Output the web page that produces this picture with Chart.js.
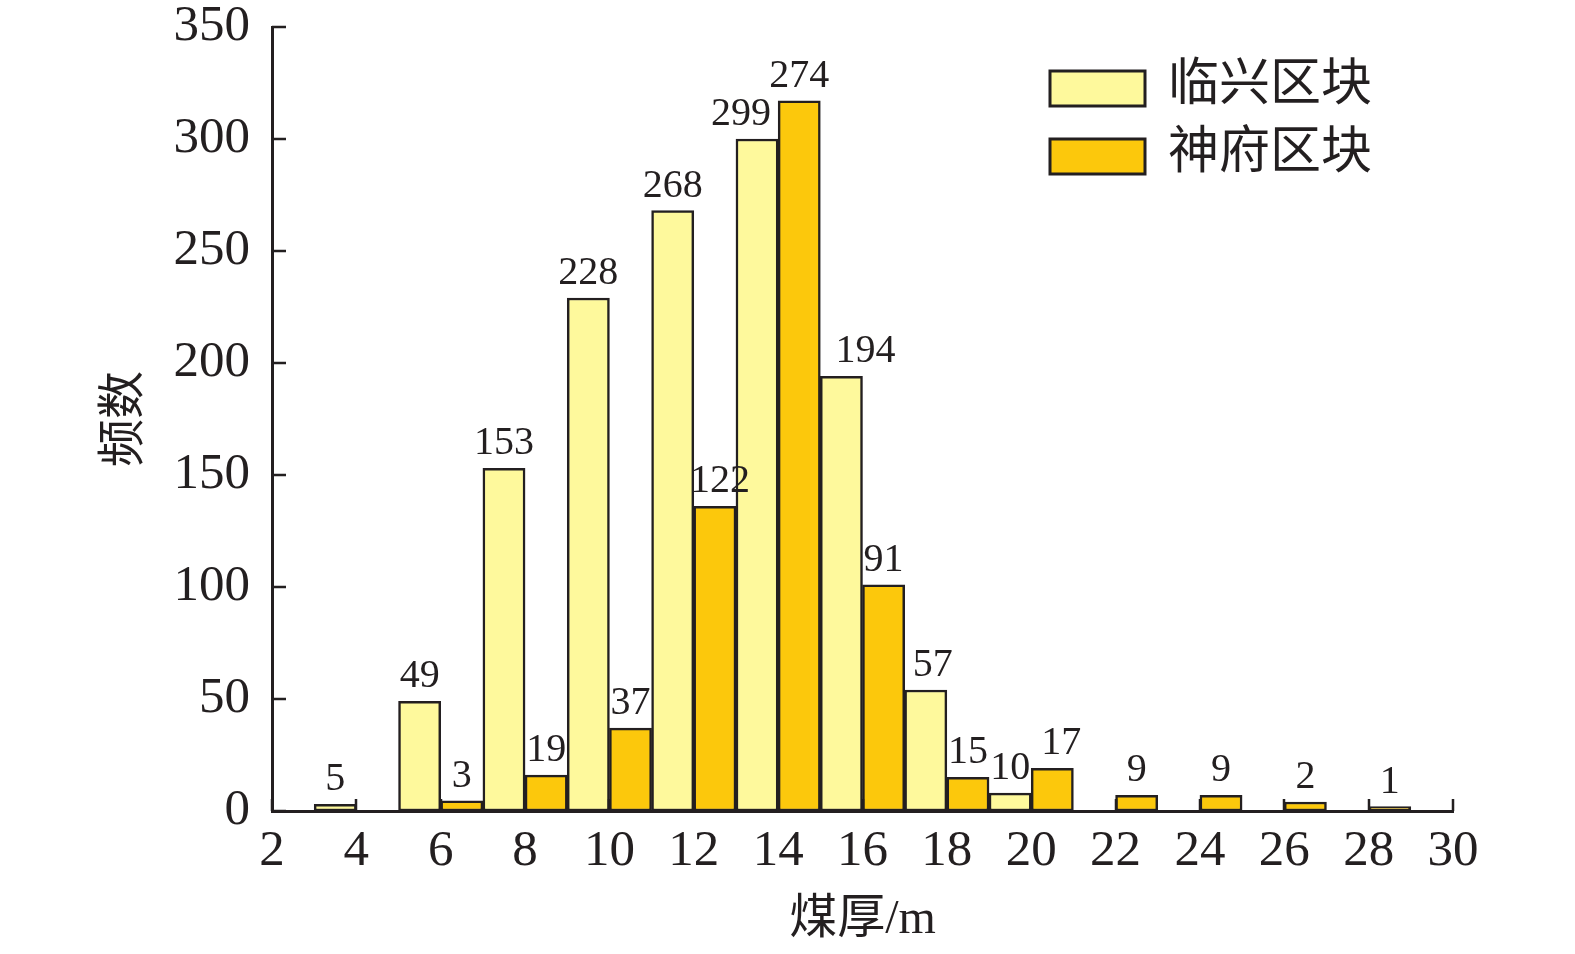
<!DOCTYPE html>
<html>
<head>
<meta charset="utf-8">
<script src="https://cdn.jsdelivr.net/npm/chart.js@4.4.1/dist/chart.umd.min.js"></script>
<style>
  html, body { margin: 0; padding: 0; background: #fff; }
  #wrap { width: 1575px; height: 954px; }
</style>
</head>
<body>
<div id="wrap"><canvas id="thicknessChart" width="1575" height="954"></canvas></div>
<script>
// coal thickness bins (bin centre, m) and bar heights as drawn
const linxingBins = [3.5, 5.5, 7.5, 9.5, 11.5, 13.5, 15.5, 17.5, 19.5];
const linxingCounts = [3, 49, 153, 229, 268, 300, 194, 54, 8];
const linxingLabels = ['5', '49', '153', '228', '268', '299', '194', '57', '10'];

const shenfuBins = [6.5, 8.5, 10.5, 12.5, 14.5, 16.5, 18.5, 20.5, 22.5, 24.5, 26.5, 28.5];
const shenfuCounts = [4.5, 16, 37, 136, 317, 101, 15, 19, 7, 7, 4, 2];
const shenfuLabels = ['3', '19', '37', '122', '274', '91', '15', '17', '9', '9', '2', '1'];

const seriesNames = ['临兴区块', '神府区块'];
const xTickValues = [2, 4, 6, 8, 10, 12, 14, 16, 18, 20, 22, 24, 26, 28, 30];
const yTickValues = [0, 50, 100, 150, 200, 250, 300, 350];

const ink = '#231F20';
const lightFill = '#FEF99C';
const darkFill = '#FCC80C';
const serif = '"Liberation Serif", "Times New Roman", serif';
const cjk = '"Noto Sans CJK SC", sans-serif';

// a few value labels sit off-centre in the original (pixels, keyed by label)
const labelShift = { '299': -16, '194': 24, '17': 9, '57': 7, '122': 5 };

function toPoints(xs, ys) {
  return xs.map((x, i) => ({ x: x, y: ys[i] }));
}

// inward ticks, value labels and the legend box
const histDecor = {
  id: 'histDecor',
  afterDatasetsDraw(chart) {
    const ctx = chart.ctx;
    const area = chart.chartArea;
    const xs = chart.scales.x;
    const ys = chart.scales.y;
    ctx.save();

    ctx.strokeStyle = ink;
    ctx.lineWidth = 2.5;
    ctx.beginPath();
    yTickValues.forEach(v => {
      const p = Math.round(ys.getPixelForValue(v));
      ctx.moveTo(area.left, p);
      ctx.lineTo(area.left + 14, p);
    });
    xTickValues.forEach(v => {
      const p = Math.round(xs.getPixelForValue(v));
      ctx.moveTo(p, area.bottom);
      ctx.lineTo(p, area.bottom - 12);
    });
    ctx.stroke();

    ctx.fillStyle = ink;
    ctx.font = '40px ' + serif;
    ctx.textAlign = 'center';
    ctx.textBaseline = 'alphabetic';
    chart.data.datasets.forEach((ds, i) => {
      const meta = chart.getDatasetMeta(i);
      meta.data.forEach((bar, j) => {
        const txt = ds.valueLabels[j];
        ctx.fillText(txt, bar.x + (labelShift[txt] || 0), bar.y - 14);
      });
    });

    // legend
    chart.data.datasets.forEach((ds, i) => {
      const top = 71 + i * 68;
      ctx.fillStyle = ds.backgroundColor;
      ctx.fillRect(1050, top, 95, 35);
      ctx.lineWidth = 3;
      ctx.strokeStyle = ink;
      ctx.strokeRect(1050, top, 95, 35);
      ctx.fillStyle = ink;
      ctx.font = '51px ' + cjk;
      ctx.textAlign = 'left';
      ctx.textBaseline = 'middle';
      ctx.fillText(ds.label, 1168, top + 10);
    });
    ctx.restore();
  }
};

const ctx = document.getElementById('thicknessChart').getContext('2d');

new Chart(ctx, {
  type: 'bar',
  data: {
    datasets: [
      {
        label: seriesNames[0],
        data: toPoints(linxingBins, linxingCounts),
        valueLabels: linxingLabels,
        backgroundColor: lightFill,
        borderColor: ink,
        borderWidth: 2.5,
        borderSkipped: false
      },
      {
        label: seriesNames[1],
        data: toPoints(shenfuBins, shenfuCounts),
        valueLabels: shenfuLabels,
        backgroundColor: darkFill,
        borderColor: ink,
        borderWidth: 2.5,
        borderSkipped: false
      }
    ]
  },
  options: {
    responsive: false,
    animation: false,
    grouped: false,
    barPercentage: 1,
    categoryPercentage: 1,
    layout: { padding: { left: 0, top: 27, right: 122, bottom: 0 } },
    scales: {
      x: {
        type: 'linear',
        min: 2,
        max: 30,
        offset: false,
        afterFit: s => { s.height = 143; s.paddingLeft = 0; s.paddingRight = 0; },
        afterBuildTicks: s => { s.ticks = xTickValues.map(v => ({ value: v })); },
        grid: { display: false, drawTicks: false },
        border: { display: true, color: ink, width: 3 },
        ticks: {
          color: ink,
          padding: 15,
          autoSkip: false,
          maxRotation: 0,
          font: { family: serif, size: 51, lineHeight: 1 }
        },
        title: {
          display: true,
          text: '煤厚/m',
          color: ink,
          font: { family: serif + ', ' + cjk, size: 48, lineHeight: 1 },
          padding: { top: 0, bottom: 10 }
        }
      },
      y: {
        min: 0,
        max: 350,
        afterFit: s => { s.width = 272; s.paddingTop = 0; s.paddingBottom = 0; },
        afterBuildTicks: s => { s.ticks = yTickValues.map(v => ({ value: v })); },
        grid: { display: false, drawTicks: false },
        border: { display: true, color: ink, width: 3 },
        ticks: {
          color: ink,
          padding: 22,
          font: { family: serif, size: 51, lineHeight: 1 }
        },
        title: {
          display: true,
          text: '频数',
          color: ink,
          font: { family: cjk, size: 48, lineHeight: 1 },
          padding: { top: 96, bottom: 0 }
        }
      }
    },
    plugins: {
      legend: { display: false },
      tooltip: { enabled: false }
    }
  },
  plugins: [histDecor]
});
</script>
</body>
</html>
